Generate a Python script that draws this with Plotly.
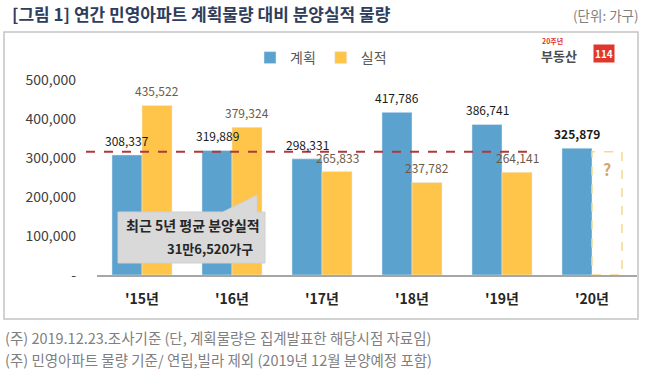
import plotly.graph_objects as go

categories = ["'15년", "'16년", "'17년", "'18년", "'19년", "'20년"]
plan_values = [308337, 319889, 298331, 417786, 386741, 325879]
actual_values = [435522, 379324, 265833, 237782, 264141, None]
avg_actual = 316520
y_tick_vals = [0, 100000, 200000, 300000, 400000, 500000]
y_tick_text = ["-", "100,000", "200,000", "300,000", "400,000", "500,000"]

FONT = "Noto Sans CJK KR"
BLUE = "#5BA3CE"
ORANGE = "#FFC54A"
Y_MAX = 560000

W, H = 647, 372
ML, MR, MT, MB = 97, 10, 57, 97
PW, PH = W - ML - MR, H - MT - MB


def px(xp):
    return (xp - ML) / PW


def py(yp):
    return (H - MB - yp) / PH


fig = go.Figure()
fig.add_bar(name="계획", x=categories, y=plan_values, marker_color=BLUE)
fig.add_bar(name="실적", x=categories, y=actual_values, marker_color=ORANGE)

annotations = []
for i, (c, v) in enumerate(zip(categories, plan_values)):
    txt = f"{v:,}"
    if i == len(categories) - 1:
        txt = f"<b>{txt}</b>"
    annotations.append(dict(x=c, y=v, xref="x", yref="y", text=txt, showarrow=False,
                            xshift=-15, yshift=4, yanchor="bottom",
                            font=dict(family=FONT, size=12, color="#1a1a1a")))
for c, v in zip(categories, actual_values):
    if v is None:
        continue
    annotations.append(dict(x=c, y=v, xref="x", yref="y", text=f"{v:,}", showarrow=False,
                            xshift=15, yshift=4, yanchor="bottom",
                            font=dict(family=FONT, size=12, color="#6E5A48")))

# placeholder "?"
annotations.append(dict(x=len(categories) - 1 + 0.1667, y=avg_actual * 0.86, xref="x", yref="y",
                        text="<b>?</b>", showarrow=False,
                        font=dict(family=FONT, size=16, color="#D9A66E")))

# title, unit, footnotes
annotations += [
    dict(x=px(10), y=py(14), xref="paper", yref="paper", xanchor="left", yanchor="middle",
         text="<b>[그림 1] 연간 민영아파트 계획물량 대비 분양실적 물량</b>", showarrow=False,
         font=dict(family=FONT, size=17, color="#2E3D5C")),
    dict(x=px(641), y=py(15), xref="paper", yref="paper", xanchor="right", yanchor="middle",
         text="(단위: 가구)", showarrow=False,
         font=dict(family=FONT, size=13.5, color="#7F7F7F")),
    dict(x=px(3), y=py(337), xref="paper", yref="paper", xanchor="left", yanchor="middle",
         text="(주) 2019.12.23.조사기준 (단, 계획물량은 집계발표한 해당시점 자료임)", showarrow=False,
         font=dict(family=FONT, size=14.5, color="#808080")),
    dict(x=px(3), y=py(359), xref="paper", yref="paper", xanchor="left", yanchor="middle",
         text="(주) 민영아파트 물량 기준/ 연립,빌라 제외 (2019년 12월 분양예정 포함)", showarrow=False,
         font=dict(family=FONT, size=14.5, color="#808080")),
    # callout text
    dict(x=px(193), y=py(225), xref="paper", yref="paper", xanchor="center", yanchor="middle",
         text="<b>최근 5년 평균 분양실적</b>", showarrow=False,
         font=dict(family=FONT, size=14, color="#262626")),
    dict(x=px(210), y=py(248), xref="paper", yref="paper", xanchor="center", yanchor="middle",
         text="<b>31만6,520가구</b>", showarrow=False,
         font=dict(family=FONT, size=13, color="#262626")),
    # logo
    dict(x=px(540), y=py(41), xref="paper", yref="paper", xanchor="left", yanchor="middle",
         text="<b>20주년</b>", showarrow=False,
         font=dict(family=FONT, size=7, color="#E0362C")),
    dict(x=px(539), y=py(55), xref="paper", yref="paper", xanchor="left", yanchor="middle",
         text="<b>부동산</b>", showarrow=False,
         font=dict(family=FONT, size=13, color="#4D4D4D")),
    dict(x=px(593), y=py(54), xref="paper", yref="paper", xanchor="left", yanchor="middle",
         text="<b>114</b>", showarrow=False, bgcolor="#E0362C", borderpad=1,
         font=dict(family=FONT, size=10, color="#FFFFFF")),
]

shapes = [
    # outer frame
    dict(type="rect", xref="paper", yref="paper", x0=px(4), x1=px(638), y0=py(319), y1=py(32),
         line=dict(color="#C4C4C4", width=1.5), fillcolor="rgba(0,0,0,0)", layer="below"),
    # average line (paper coords so it can start left of the plot area)
    dict(type="line", xref="paper", yref="paper", x0=px(86), x1=px(527),
         y0=avg_actual / Y_MAX, y1=avg_actual / Y_MAX,
         line=dict(color="#B0383C", width=2, dash="dash")),
    # placeholder box for 2020 actual
    dict(type="rect", xref="x", yref="y", x0=len(categories) - 1, x1=len(categories) - 1 + 0.333,
         y0=0, y1=avg_actual, line=dict(color="#F7D88E", width=1.5, dash="dash"),
         fillcolor="rgba(0,0,0,0)"),
]

# callout box with pointer
pts = [(118, 212), (223, 212), (257, 195), (257, 212), (265, 212), (265, 263), (118, 263)]
path = "M " + " L ".join(f"{px(a):.4f},{py(b):.4f}" for a, b in pts) + " Z"
shapes.append(dict(type="path", xref="paper", yref="paper", path=path,
                   fillcolor="#D9D9D9", line=dict(color="#D0D0D0", width=1)))

fig.update_layout(
    width=W, height=H,
    margin=dict(l=ML, r=MR, t=MT, b=MB),
    paper_bgcolor="white", plot_bgcolor="white",
    barmode="group", bargap=0.333, bargroupgap=0,
    font=dict(family=FONT, color="#404040"),
    hovermode=False,
    showlegend=True,
    legend=dict(orientation="h", x=px(250), y=py(58), xanchor="left", yanchor="middle",
                font=dict(family=FONT, size=14, color="#595959"),
                itemwidth=30, bgcolor="rgba(0,0,0,0)", traceorder="normal"),
    annotations=annotations,
    shapes=shapes,
    xaxis=dict(showgrid=False, showline=True, linecolor="#A6A6A6", linewidth=1.5,
               ticks="", ticklabelstandoff=10,
               tickfont=dict(family=FONT, size=14, color="#262626"),
               tickprefix="<b>", ticksuffix="</b>"),
    yaxis=dict(range=[0, Y_MAX], showgrid=False, zeroline=False, showline=False,
               tickvals=y_tick_vals, ticktext=y_tick_text, ticks="",
               ticklabelstandoff=20,
               tickfont=dict(family=FONT, size=14, color="#404040")),
)

fig.write_html("out.html", config={"displayModeBar": False},
               post_script="document.body.style.margin='0';")
